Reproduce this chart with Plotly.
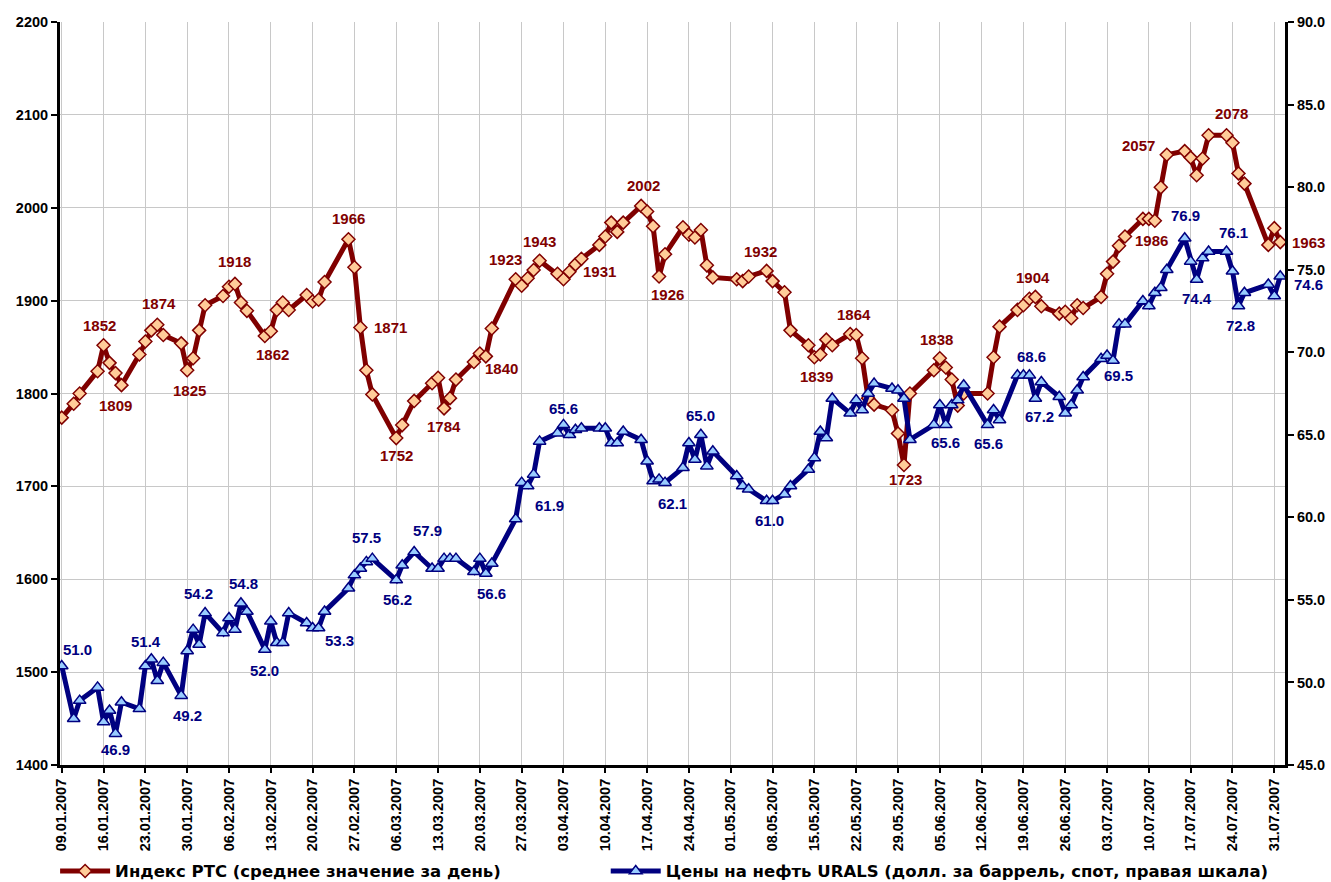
import plotly.graph_objects as go
from datetime import datetime, timedelta

# ---------------- data ----------------
dates_str = [
    "09.01", "11.01", "12.01", "15.01", "16.01", "17.01", "18.01", "19.01", "22.01", "23.01",
    "24.01", "25.01", "26.01", "29.01", "30.01", "31.01", "01.02", "02.02", "05.02", "06.02",
    "07.02", "08.02", "09.02", "12.02", "13.02", "14.02", "15.02", "16.02", "19.02", "20.02",
    "21.02", "22.02", "26.02", "27.02", "28.02", "01.03", "02.03", "06.03", "07.03", "09.03",
    "12.03", "13.03", "14.03", "15.03", "16.03", "19.03", "20.03", "21.03", "22.03", "26.03",
    "27.03", "28.03", "29.03", "30.03", "02.04", "03.04", "04.04", "05.04", "06.04", "09.04",
    "10.04", "11.04", "12.04", "13.04", "16.04", "17.04", "18.04", "19.04", "20.04", "23.04",
    "24.04", "25.04", "26.04", "27.04", "28.04", "02.05", "03.05", "04.05", "07.05", "08.05",
    "10.05", "11.05", "14.05", "15.05", "16.05", "17.05", "18.05", "21.05", "22.05", "23.05",
    "24.05", "25.05", "28.05", "29.05", "30.05", "31.05", "04.06", "05.06", "06.06", "07.06",
    "08.06", "09.06", "13.06", "14.06", "15.06", "18.06", "19.06", "20.06", "21.06", "22.06",
    "25.06", "26.06", "27.06", "28.06", "29.06", "02.07", "03.07", "04.07", "05.07", "06.07",
    "09.07", "10.07", "11.07", "12.07", "13.07", "16.07", "17.07", "18.07", "19.07", "20.07",
    "23.07", "24.07", "25.07", "26.07", "30.07", "31.07", "01.08",
]

rts_values = [
    1774, 1789, 1800, 1824, 1852, 1833, 1822, 1809, 1842, 1856,
    1868, 1874, 1863, 1854, 1825, 1838, 1868, 1895, 1905, 1915,
    1918, 1898, 1889, 1862, 1867, 1890, 1898, 1890, 1906, 1899,
    1901, 1920, 1966, 1936, 1871, 1825, 1799, 1752, 1766, 1792,
    1811, 1817, 1784, 1795, 1815, 1834, 1843, 1840, 1870, 1923,
    1916, 1924, 1933, 1943, 1929, 1923, 1931, 1939, 1945, 1960,
    1969, 1984, 1974, 1984, 2002, 1996, 1980, 1926, 1950, 1979,
    1971, 1968, 1976, 1938, 1925, 1923, 1921, 1926, 1932, 1921,
    1909, 1868, 1852, 1839, 1842, 1858, 1852, 1864, 1863, 1838,
    1795, 1788, 1782, 1757, 1723, 1800, 1825, 1838, 1828, 1815,
    1787, 1800, 1800, 1839, 1872, 1890, 1895, 1902, 1904, 1894,
    1886, 1888, 1881, 1895, 1892, 1904, 1929, 1942, 1959, 1969,
    1988, 1988, 1986, 2022, 2057, 2061, 2054, 2035, 2053, 2078,
    2078, 2070, 2037, 2026, 1960, 1978, 1963,
]

urals_values = [
    51.0, 47.8, 48.9, 49.7, 47.6, 48.3, 46.9, 48.8, 48.4, 51.0,
    51.4, 50.1, 51.2, 49.2, 51.9, 53.2, 52.3, 54.2, 53.0, 53.9,
    53.2, 54.8, 54.3, 52.0, 53.7, 52.4, 52.4, 54.2, 53.6, 53.3,
    53.3, 54.3, 55.7, 56.5, 56.9, 57.3, 57.5, 56.2, 57.1, 57.9,
    56.9, 56.9, 57.5, 57.5, 57.5, 56.7, 57.5, 56.6, 57.2, 59.9,
    62.1, 61.9, 62.6, 64.6, 65.1, 65.6, 65.0, 65.3, 65.4, 65.4,
    65.4, 64.5, 64.5, 65.2, 64.7, 63.4, 62.2, 62.3, 62.1, 63.0,
    64.5, 63.5, 65.0, 63.1, 64.0, 62.5, 61.9, 61.7, 61.0, 61.0,
    61.4, 61.9, 62.9, 63.6, 65.2, 64.8, 67.2, 66.3, 67.1, 66.5,
    67.5, 68.1, 67.8, 67.7, 67.2, 64.7, 65.6, 66.8, 65.6, 66.8,
    67.1, 68.0, 65.6, 66.5, 65.9, 68.6, 68.6, 68.6, 67.2, 68.2,
    67.3, 66.3, 66.8, 67.7, 68.5, 69.6, 69.8, 69.5, 71.7, 71.7,
    73.1, 72.8, 73.6, 73.9, 75.0, 76.9, 75.5, 74.4, 75.7, 76.1,
    76.1, 74.9, 72.8, 73.6, 74.1, 73.4, 74.6,
]

# labelled points: (date, x-offset px, y-offset px)
rts_labels = [
    ("16.01", -4, 20), ("19.01", -6, -20), ("25.01", 2, 21), ("30.01", 2, -20),
    ("07.02", 0, 22), ("12.02", 8, -19), ("26.02", 0, 21), ("28.02", 30, 0),
    ("06.03", 0, -17), ("14.03", 0, -18), ("21.03", 16, -12), ("26.03", -10, 20),
    ("30.03", 0, 19), ("04.04", 30, 0), ("16.04", 2, 20), ("19.04", 8, -18),
    ("07.05", -6, 19), ("15.05", 2, -19), ("21.05", 4, 20), ("30.05", 2, -14),
    ("05.06", -3, 19), ("21.06", -2, 19), ("11.07", -3, -20), ("13.07", -28, 9),
    ("23.07", 5, 22), ("01.08", 28, 0),
]
urals_labels = [
    ("09.01", 16, 16), ("18.01", 0, -16), ("24.01", -5, 18), ("29.01", 6, -20),
    ("02.02", -7, 20), ("08.02", 3, 20), ("12.02", 0, -21), ("21.02", 21, -13),
    ("02.03", -6, 21), ("06.03", 1, -19), ("09.03", 13, 22), ("21.03", 6, -20),
    ("28.03", 22, -20), ("03.04", 0, 16), ("20.04", 7, -21), ("26.04", 0, 19),
    ("08.05", -3, -20), ("06.06", 0, -18), ("13.06", 1, -19), ("20.06", 2, 19),
    ("21.06", 4, -18), ("04.07", 5, -15), ("16.07", 1, 23), ("18.07", 0, -19),
    ("23.07", 7, 19), ("25.07", 2, -20), ("01.08", 28, -8),
]

assert len(dates_str) == len(rts_values) == len(urals_values)

dates = [datetime.strptime(d + ".2007", "%d.%m.%Y") for d in dates_str]
idx = {d: i for i, d in enumerate(dates_str)}

RTS_COL = "#800000"
OIL_COL = "#000080"
FONT = "Liberation Sans, Arial, sans-serif"
LEG_FONT = "DejaVu Sans, Liberation Sans, sans-serif"

fig = go.Figure()
fig.add_trace(go.Scatter(
    x=dates, y=rts_values, yaxis="y", mode="lines+markers",
    name="Индекс РТС (среднее значение за день)", legend="legend",
    line=dict(color=RTS_COL, width=5),
    marker=dict(symbol="diamond", size=10, color="#FFCC99",
                line=dict(color=RTS_COL, width=1.5)),
))
fig.add_trace(go.Scatter(
    x=dates, y=urals_values, yaxis="y2", mode="lines+markers",
    name="Цены на нефть URALS (долл. за баррель, спот, правая шкала)", legend="legend2",
    line=dict(color=OIL_COL, width=5),
    marker=dict(symbol="triangle-up", size=11, color="#99CCFF",
                line=dict(color=OIL_COL, width=1.5)),
))

annotations = []
for d, dx, dy in rts_labels:
    i = idx[d]
    annotations.append(dict(
        x=dates[i], y=rts_values[i], xref="x", yref="y",
        text=f"{rts_values[i]:d}", showarrow=False,
        xshift=dx, yshift=dy,
        font=dict(family=FONT, size=15, color=RTS_COL, weight="bold"),
    ))
for d, dx, dy in urals_labels:
    i = idx[d]
    annotations.append(dict(
        x=dates[i], y=urals_values[i], xref="x", yref="y2",
        text=f"{urals_values[i]:.1f}", showarrow=False,
        xshift=dx, yshift=dy,
        font=dict(family=FONT, size=15, color=OIL_COL, weight="bold"),
    ))

x_start = datetime(2007, 1, 9) - timedelta(hours=7)
x_end = datetime(2007, 8, 1) + timedelta(hours=19)

tickfont = dict(family=FONT, size=14.5, color="black", weight="bold")
legfont = dict(family=LEG_FONT, size=16.5, color="black", weight="bold")

fig.update_layout(
    width=1331, height=882,
    paper_bgcolor="white", plot_bgcolor="white",
    margin=dict(l=60, r=46, t=22, b=117, autoexpand=False),
    font=dict(family=FONT),
    showlegend=True,
    legend=dict(
        orientation="h", x=-0.004, xanchor="left", y=-0.143, yanchor="middle",
        font=legfont, itemwidth=50, bgcolor="rgba(0,0,0,0)",
    ),
    legend2=dict(
        orientation="h", x=0.4455, xanchor="left", y=-0.143, yanchor="middle",
        font=legfont, itemwidth=50, bgcolor="rgba(0,0,0,0)",
    ),
    xaxis=dict(
        type="date", range=[x_start, x_end],
        tick0=datetime(2007, 1, 9), dtick=7 * 86400000,
        tickformat="%d.%m.%Y", tickangle=-90, tickfont=tickfont,
        showgrid=True, gridcolor="#C8C8C8", gridwidth=1,
        showline=True, linecolor="black", linewidth=3,
        ticks="outside", ticklen=5, tickwidth=2, tickcolor="black",
        zeroline=False,
    ),
    yaxis=dict(
        range=[1400, 2200], dtick=100, tickfont=tickfont,
        showgrid=True, gridcolor="#C8C8C8", gridwidth=1,
        showline=True, linecolor="black", linewidth=3,
        ticks="outside", ticklen=6, tickwidth=2, tickcolor="black",
        zeroline=False,
    ),
    yaxis2=dict(
        range=[45, 90], dtick=5, tickformat=".1f", tickfont=tickfont,
        overlaying="y", side="right", showgrid=False,
        showline=True, linecolor="black", linewidth=3,
        ticks="outside", ticklen=6, tickwidth=2, tickcolor="black",
        zeroline=False,
    ),
    annotations=annotations,
)

fig.write_html(
    "out.html",
    config={"displayModeBar": False},
    post_script="document.body.style.margin='0';document.body.style.overflow='hidden';",
)
